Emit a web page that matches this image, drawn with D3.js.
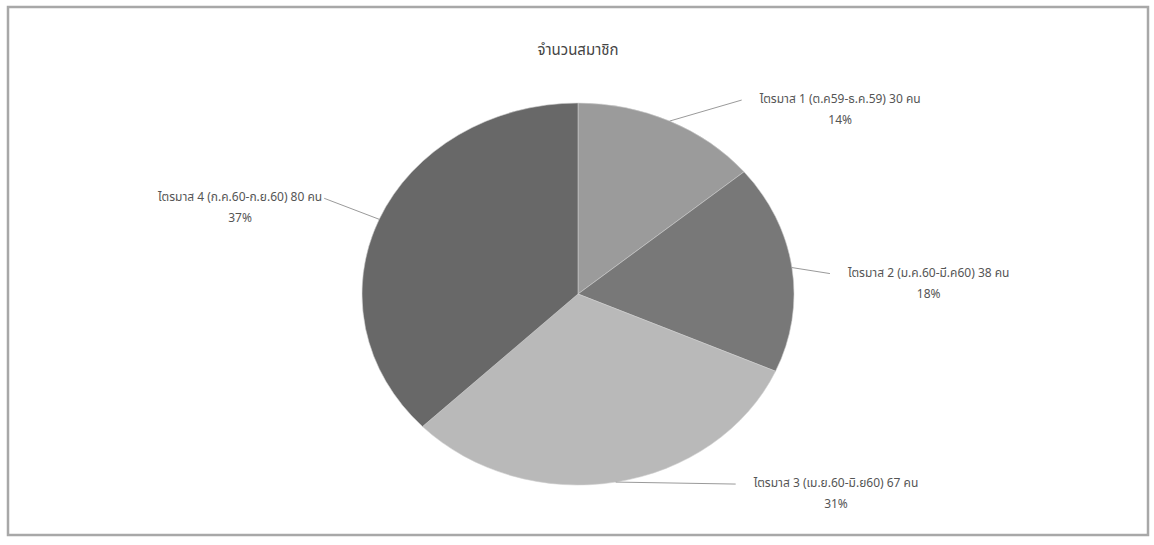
<!DOCTYPE html>
<html>
<head>
<meta charset="utf-8">
<script src="https://cdn.jsdelivr.net/npm/d3@7"></script>
<style>
  body { margin: 0; background: #fff; }
  svg { font-family: "Noto Sans Thai", "Noto Sans", "DejaVu Sans", sans-serif; }
</style>
</head>
<body>
<div id="chart"></div>
<script>
// data
var quarters = ["ไตรมาส 1 (ต.ค59-ธ.ค.59)", "ไตรมาส 2 (ม.ค.60-มี.ค60)",
                "ไตรมาส 3 (เม.ย.60-มิ.ย60)", "ไตรมาส 4 (ก.ค.60-ก.ย.60)"]
var members = [30, 38, 67, 80]
var sliceColors = ["#9b9b9b", "#787878", "#b9b9b9", "#686868"]
var title = "จำนวนสมาชิก"

// leader line end, offset from the slice edge point
var leaderOffsets = [[72, -21], [38, 6], [120, 2], [-55, -21]]

var width = 1154, height = 545
var cx = 578, cy = 294, rx = 216, ry = 191

var svg = d3.select("#chart").append("svg")
    .attr("width", width)
    .attr("height", height)

// frame
svg.append("rect")
    .attr("x", 8).attr("y", 7)
    .attr("width", 1140).attr("height", 528)
    .attr("fill", "#fff")
    .attr("stroke", "#a8a8a8")
    .attr("stroke-width", 2.5)

svg.append("text")
    .attr("x", cx)
    .attr("y", 55)
    .attr("text-anchor", "middle")
    .style("font-size", "15px")
    .style("fill", "#444")
    .text(title)

var total = d3.sum(members)
var pie = d3.pie().sort(null).value(function(d) { return d })
var arcs = pie(members)

var arc = d3.arc().innerRadius(0).outerRadius(rx)

var g = svg.append("g")
    .attr("transform", "translate(" + cx + "," + cy + ") scale(1," + (ry / rx) + ")")

g.selectAll("path")
  .data(arcs)
  .enter()
  .append("path")
    .attr("d", arc)
    .attr("fill", function(d, i) { return sliceColors[i] })
    .attr("stroke", "#cfcfcf")
    .attr("stroke-width", 0.6)

// labels
arcs.forEach(function(d, i) {
  var a = (d.startAngle + d.endAngle) / 2
  var px = cx + rx * Math.sin(a)
  var py = cy - ry * Math.cos(a)
  var ex = px + leaderOffsets[i][0]
  var ey = py + leaderOffsets[i][1]
  var right = ex > cx

  svg.append("line")
    .attr("x1", px).attr("y1", py)
    .attr("x2", ex).attr("y2", ey)
    .style("stroke", "#9a9a9a")
    .style("stroke-width", 1)

  var lbl = svg.append("text")
    .attr("x", right ? ex + 18 : ex - 2)
    .attr("y", ey + 3)
    .attr("text-anchor", right ? "start" : "end")
    .style("font-size", "12px")
    .style("fill", "#555")
    .text(quarters[i] + " " + members[i] + " คน")

  var w = lbl.node().getComputedTextLength()
  var mid = right ? ex + 18 + w / 2 : ex - 2 - w / 2

  svg.append("text")
    .attr("x", mid)
    .attr("y", ey + 24)
    .attr("text-anchor", "middle")
    .style("font-size", "12px")
    .style("fill", "#555")
    .text(Math.round(members[i] / total * 100) + "%")
})
</script>
</body>
</html>
